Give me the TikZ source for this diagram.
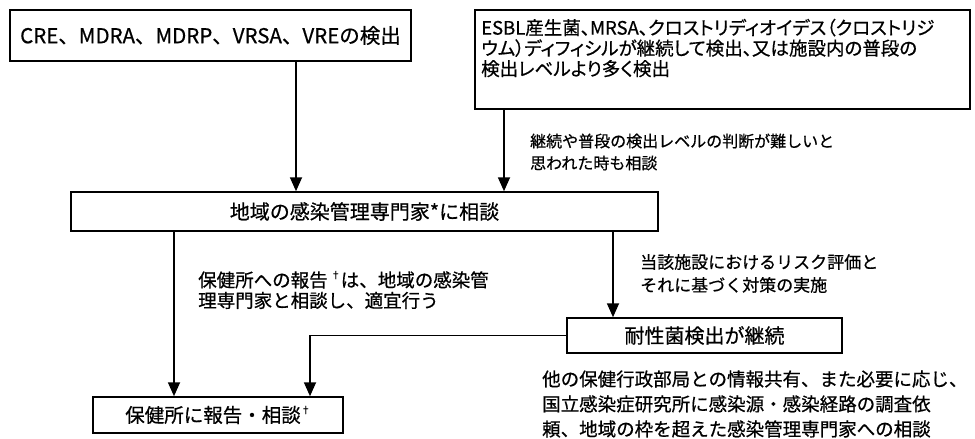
\documentclass[tikz,border=0pt]{standalone}
\usepackage{fontspec}
\setmainfont[FakeBold=0.6]{Noto Sans CJK JP}
\newfontfamily\jpnarrow[FakeBold=0.6,RawFeature=+palt]{Noto Sans CJK JP}
\usetikzlibrary{arrows.meta}
\newcommand\fsz[2]{\fontsize{#1pt}{#2pt}\selectfont}
\newcommand\mydag{\raisebox{0.45em}{\fsz{10}{10}†}}
\begin{document}
\begin{tikzpicture}[x=1pt,y=-1pt,
  box/.style={draw, line width=1.5pt, inner sep=0pt, fill=white},
  lbl/.style={inner sep=0pt, anchor=west, align=left},
  arr/.style={line width=1.8pt, -{Triangle[length=14pt,width=12pt]}}]
\useasboundingbox[fill=white] (0,0) rectangle (975,439);
% boxes
\node[box, minimum width=401pt, minimum height=51pt, font=\fsz{20.5}{22}] (A) at (210.5,35.5) {CRE、MDRA、MDRP、VRSA、VREの検出};
\node[box, minimum width=495pt, minimum height=99pt] (B) at (722.5,59.5) {};
\node[lbl, font=\jpnarrow\fsz{18.5}{20.5}] (Bt) at (481,48) {ESBL産生菌、MRSA、クロストリディオイデス（クロストリジ\\ウム）ディフィシルが継続して検出、又は施設内の普段の\\検出レベルより多く検出};
\node[box, minimum width=587pt, minimum height=39pt, font=\fsz{20}{22}] (M) at (364.5,211.5) {地域の感染管理専門家*に相談};
\node[box, minimum width=275pt, minimum height=35pt, font=\fsz{20}{22}] (R) at (704.5,335.5) {耐性菌検出が継続};
\node[box, minimum width=250pt, minimum height=36pt, font=\fsz{19.5}{22}] (P) at (218,415) {保健所に報告・相談\mydag};
% labels
\node[lbl, font=\fsz{16}{22}] (L1) at (530,152) {継続や普段の検出レベルの判断が難しいと\\思われた時も相談};
\node[lbl, font=\fsz{18.5}{20.5}] (L2) at (198,290) {保健所への報告\,\mydag は、地域の感染管\\理専門家と相談し、適宜行う};
\node[lbl, font=\fsz{17}{23}] (L3) at (640,273.5) {当該施設におけるリスク評価と\\それに基づく対策の実施};
\node[lbl, font=\fsz{18.5}{25}] (L4) at (542,404) {他の保健行政部局との情報共有、また必要に応じ、\\国立感染症研究所に感染源・感染経路の調査依\\頼、地域の枠を超えた感染管理専門家への相談};
% connectors
\draw[arr] (296,0 |- A.south) -- (296,0 |- M.north);
\draw[arr] (504,0 |- B.south) -- (504,0 |- M.north);
\draw[arr] (174,0 |- M.south) -- (174,0 |- P.north);
\draw[arr] (613,0 |- M.south) -- (613,0 |- R.north);
\draw[arr] (R.west) -| (310,0 |- P.north);
\end{tikzpicture}
\end{document}
